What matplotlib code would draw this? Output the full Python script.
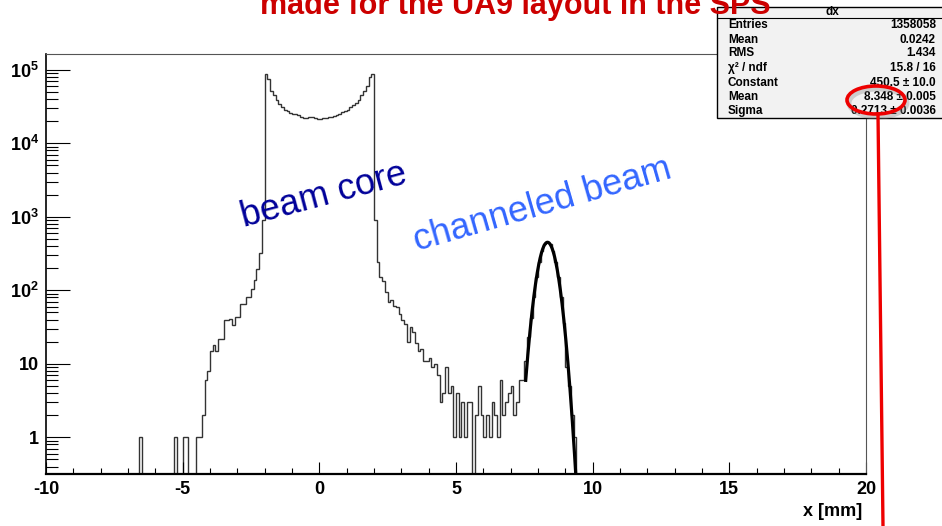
import numpy as np
import matplotlib
matplotlib.use("Agg")
import matplotlib.pyplot as plt
from matplotlib.patches import Rectangle, Ellipse
from matplotlib.lines import Line2D

plt.rcParams['font.family'] = ['Liberation Sans', 'DejaVu Sans']
plt.rcParams['mathtext.fontset'] = 'custom'
plt.rcParams['mathtext.rm'] = 'Liberation Sans:bold'
plt.rcParams['mathtext.bf'] = 'Liberation Sans:bold'
plt.rcParams['mathtext.default'] = 'bf'

# histogram: 300 bins of 0.1 mm from -10 to 20
x_min, x_max, n_bins = -10.0, 20.0, 300

# counts, -6.6 ... -2.1 mm
left_tail_start = -6.6
left_tail = [1, 0, 0, 0, 0, 0, 0, 0, 0, 0, 0, 0, 0, 1, 0, 0, 1, 1, 0, 0,
             0, 1, 1, 2, 6, 8, 15, 18, 15, 22, 22, 40, 40, 41, 34, 44, 44,
             66, 66, 81, 81, 105, 136, 192, 318, 900]

# counts, -2.0 ... 1.9 mm (beam core)
core_start = -2.0
core = [86500, 76000, 52000, 45000, 38600, 34000, 31300, 28800, 27400, 25900,
        25400, 25400, 24100, 22900, 22400, 22400, 22600, 22900, 22400, 21500,
        21100, 21800, 22400, 22900, 23000, 23200, 24100, 25400, 26800, 27600,
        28800, 30700, 33000, 35400, 38800, 45000, 52000, 61000, 79000, 86500]

# counts, 2.0 ... 7.6 mm
right_tail_start = 2.0
right_tail = [900, 241, 150, 133, 94, 70, 73, 62, 59, 48, 39, 35, 20, 32, 27,
              19, 15, 16, 11, 11, 12, 9, 10, 7, 3, 4, 9, 4, 5, 1, 4, 1, 3, 1,
              3, 3, 0, 2, 5, 2, 1, 2, 1, 3, 2, 1, 6, 2, 3, 4, 5, 2, 3, 6, 6,
              11, 23]

# counts, 7.7 ... 9.3 mm (channeled beam)
peak_start = 7.7
peak = [42, 82, 150, 240, 345, 420, 455, 425, 345, 240, 150, 80, 36, 9, 5, 2, 1]

# gaussian fit shown in the stats box
fit_const, fit_mean, fit_sigma = 450.5, 8.348, 0.2713
fit_range = (7.55, 9.5)

stats_rows = [("Entries", "1358058"), ("Mean", "0.0242"), ("RMS", "1.434"),
              ("\u03c7\u00b2 / ndf", "15.8 / 16"), ("Constant", "450.5 \u00b1 10.0"),
              ("Mean", "8.348 \u00b1 0.005"), ("Sigma", "0.2713 \u00b1 0.0036")]

W, H = 942, 526


def fx(px):
    return px / W


def fy(py):
    return 1 - py / H


edges = np.linspace(x_min, x_max, n_bins + 1)
counts = np.zeros(n_bins)
for start, vals in [(left_tail_start, left_tail), (core_start, core),
                    (right_tail_start, right_tail), (peak_start, peak)]:
    i0 = int(round((start - x_min) / 0.1))
    counts[i0:i0 + len(vals)] = vals
counts_plot = np.where(counts > 0, counts, 1e-3)

fig = plt.figure(figsize=(W / 100, H / 100), dpi=100)
ax = fig.add_axes([fx(46), fy(474), (866 - 46) / W, (474 - 54) / H])

ax.stairs(counts_plot, edges, baseline=1e-3, color='#333333', lw=1.0)

xf = np.linspace(fit_range[0], fit_range[1], 400)
yf = fit_const * np.exp(-0.5 * ((xf - fit_mean) / fit_sigma) ** 2)
ax.plot(xf, yf, color='black', lw=2.3)

ax.set_yscale('log')
ax.set_xlim(x_min, x_max)
ax.set_ylim(0.317, 1.64e5)

ax.set_xticks([-10, -5, 0, 5, 10, 15, 20])
ax.set_xticks(np.arange(-10, 21, 1), minor=True)
ax.set_xticklabels(['-10', '-5', '0', '5', '10', '15', '20'])
ax.set_yticks([1, 10, 100, 1e3, 1e4, 1e5])
ax.set_yticklabels(['1', '10', r'$10^{2}$', r'$10^{3}$', r'$10^{4}$', r'$10^{5}$'])
ax.yaxis.set_minor_locator(matplotlib.ticker.LogLocator(base=10, subs=np.arange(2, 10)))
ax.yaxis.set_minor_formatter(matplotlib.ticker.NullFormatter())

ax.tick_params(axis='x', which='major', direction='in', length=8.6, width=0.8,
               labelsize=13, pad=5, top=False)
ax.tick_params(axis='x', which='minor', direction='in', length=4.3, width=0.8, top=False)
ax.tick_params(axis='y', which='major', direction='in', length=17, width=0.8,
               labelsize=13, pad=5, right=False)
ax.tick_params(axis='y', which='minor', direction='in', length=8.6, width=0.8, right=False)
for lab in ax.get_xticklabels() + ax.get_yticklabels():
    lab.set_fontweight('bold')

ax.spines['bottom'].set_linewidth(1.6)
ax.spines['left'].set_linewidth(1.2)
for s in ['top', 'right']:
    ax.spines[s].set_linewidth(0.8)
    ax.spines[s].set_color('#555555')

fig.text(fx(862), fy(512), 'x [mm]', ha='right', va='center', fontsize=13,
         fontweight='bold')

ax.text(0.15, 1960, 'beam core', color='#000099', fontsize=26, rotation=15,
        ha='center', va='center', rotation_mode='anchor')
ax.text(8.15, 1435, 'channeled beam', color='#3366ff', fontsize=26, rotation=16,
        ha='center', va='center', rotation_mode='anchor')

# slide title, cut at the top of the picture
fig.text(fx(515), fy(14), 'made for the UA9 layout in the SPS', color='#cc0000',
         fontsize=22, fontweight='bold', ha='center', va='baseline', zorder=10)

# stats box
fig.patches.append(Rectangle((fx(717), fy(118)), (960 - 717) / W, (118 - 7) / H,
                             transform=fig.transFigure, facecolor='#f2f2f2',
                             edgecolor='black', lw=1, zorder=5))
fig.lines.append(Line2D([fx(717), fx(942)], [fy(18), fy(18)], transform=fig.transFigure,
                        color='black', lw=0.8, zorder=6))
fig.text(fx(832), fy(12), 'dx', ha='center', va='center', fontsize=8.5,
         fontweight='bold', zorder=7)
row_y = [25, 40, 53, 68, 83, 97, 111]
for (name, val), py in zip(stats_rows, row_y):
    fig.text(fx(728), fy(py), name, ha='left', va='center', fontsize=8.5,
             fontweight='bold', zorder=7)
    fig.text(fx(936), fy(py), val, ha='right', va='center', fontsize=8.5,
             fontweight='bold', zorder=7)

# red marker ellipse and line
fig.patches.append(Ellipse((fx(878), fy(103)), 58 / W, 28 / H, transform=fig.transFigure,
                           facecolor='none', edgecolor='#888888', lw=3.5, alpha=0.35,
                           zorder=8))
fig.patches.append(Ellipse((fx(876), fy(100)), 58 / W, 28 / H, transform=fig.transFigure,
                           facecolor='none', edgecolor='#ee0000', lw=2.6, zorder=9))
fig.lines.append(Line2D([fx(878), fx(883)], [fy(114), fy(526)], transform=fig.transFigure,
                        color='#ee0000', lw=2.4, zorder=9))

fig.savefig('out.png', dpi=100)
